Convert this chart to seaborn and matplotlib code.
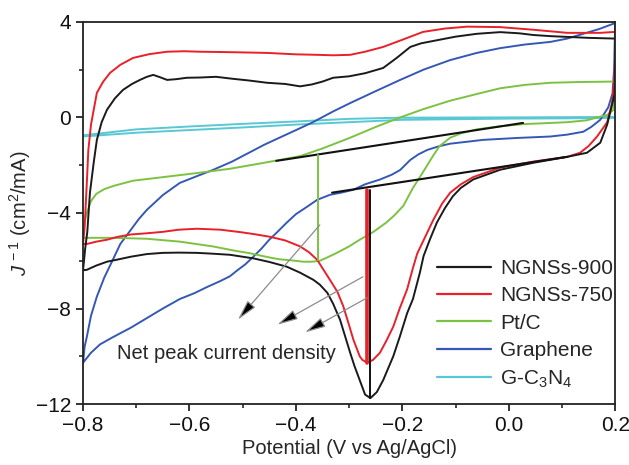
import numpy as np
import pandas as pd
import matplotlib
matplotlib.use("Agg")
import matplotlib.pyplot as plt
import seaborn as sns
from matplotlib.lines import Line2D
from matplotlib.ticker import MultipleLocator

# ── Datos (V vs Ag/AgCl, J^-1) ───────────────────────────────────────────────
ngns900_v = [-0.800, -0.796, -0.792, -0.787, -0.780, -0.774, -0.765, -0.755, -0.740, -0.725,
             -0.708, -0.693, -0.680, -0.668, -0.655, -0.642, -0.625, -0.605, -0.580, -0.550,
             -0.520, -0.490, -0.454, -0.420, -0.392, -0.370, -0.350, -0.330, -0.300, -0.270,
             -0.236, -0.210, -0.185, -0.165, -0.142, -0.100, -0.060, -0.016, 0.020, 0.046,
             0.080, 0.110, 0.150, 0.200,
             0.200, 0.199, 0.196, 0.185, 0.172, 0.147, 0.110, 0.046, -0.016, -0.067,
             -0.090, -0.105, -0.120, -0.135, -0.148, -0.160, -0.167, -0.180, -0.191, -0.205,
             -0.217, -0.236, -0.248, -0.260, -0.270, -0.280, -0.290, -0.298, -0.317, -0.330,
             -0.341, -0.355, -0.367, -0.392, -0.417, -0.450, -0.480, -0.524, -0.560, -0.586,
             -0.620, -0.650, -0.680, -0.710, -0.735, -0.755, -0.775, -0.793, -0.800]
ngns900_j = [-6.40, -5.50, -4.80, -3.15, -1.90, -0.94, -0.20, 0.32, 0.80, 1.15,
             1.40, 1.57, 1.70, 1.78, 1.68, 1.57, 1.60, 1.66, 1.67, 1.70,
             1.62, 1.55, 1.45, 1.40, 1.30, 1.38, 1.50, 1.66, 1.72, 1.85,
             2.07, 2.50, 2.95, 3.10, 3.20, 3.38, 3.50, 3.57, 3.52, 3.45,
             3.40, 3.37, 3.33, 3.30,
             2.00, 1.00, 0.70, -0.30, -1.06, -1.48, -1.65, -1.90, -2.19, -2.60,
             -2.95, -3.30, -3.80, -4.40, -5.10, -5.80, -6.50, -7.60, -8.20, -9.20,
             -10.00, -11.00, -11.50, -11.75, -11.60, -11.00, -10.40, -9.85, -8.47, -7.80,
             -7.34, -7.00, -6.80, -6.50, -6.25, -6.05, -5.90, -5.75, -5.70, -5.67,
             -5.66, -5.67, -5.72, -5.83, -5.95, -6.04, -6.20, -6.38, -6.40]

ngns750_v = [-0.800, -0.797, -0.796, -0.793, -0.790, -0.785, -0.774, -0.762, -0.749, -0.730,
             -0.706, -0.675, -0.642, -0.610, -0.580, -0.520, -0.454, -0.400, -0.360, -0.330,
             -0.298, -0.270, -0.236, -0.200, -0.161, -0.120, -0.078, -0.016, 0.046, 0.110,
             0.172, 0.200,
             0.200, 0.198, 0.194, 0.185, 0.166, 0.150, 0.134, 0.110, 0.046, -0.016,
             -0.067, -0.090, -0.110, -0.125, -0.142, -0.157, -0.172, -0.180, -0.191, -0.205,
             -0.217, -0.230, -0.242, -0.255, -0.266, -0.275, -0.280, -0.292, -0.300, -0.311,
             -0.322, -0.336, -0.360, -0.375, -0.392, -0.420, -0.448, -0.480, -0.505, -0.542,
             -0.586, -0.620, -0.650, -0.680, -0.710, -0.735, -0.755, -0.775, -0.793, -0.800]
ngns750_j = [-5.30, -4.60, -4.16, -2.80, -1.36, -0.30, 1.03, 1.50, 1.87, 2.20,
             2.49, 2.65, 2.75, 2.77, 2.75, 2.73, 2.70, 2.64, 2.62, 2.60,
             2.62, 2.75, 2.95, 3.25, 3.58, 3.72, 3.80, 3.78, 3.67, 3.54,
             3.54, 3.58,
             2.50, 1.50, 0.60, -0.20, -0.80, -1.20, -1.48, -1.65, -1.85, -2.10,
             -2.50, -2.80, -3.15, -3.60, -4.30, -5.00, -5.70, -6.30, -7.20, -8.00,
             -8.76, -9.35, -9.85, -10.15, -10.27, -10.15, -10.00, -9.30, -8.70, -7.90,
             -7.30, -6.80, -5.96, -5.65, -5.40, -5.15, -5.00, -4.88, -4.80, -4.70,
             -4.66, -4.70, -4.79, -4.85, -4.90, -5.00, -5.12, -5.20, -5.30, -5.30]

ptc_v = [-0.800, -0.798, -0.793, -0.785, -0.775, -0.760, -0.740, -0.706, -0.650, -0.586,
         -0.524, -0.460, -0.392, -0.350, -0.298, -0.250, -0.204, -0.160, -0.110, -0.060,
         -0.016, 0.030, 0.078, 0.130, 0.196, 0.200,
         0.200, 0.198, 0.196, 0.185, 0.166, 0.147, 0.110, 0.060, 0.028, -0.020,
         -0.060, -0.090, -0.110, -0.130, -0.142, -0.155, -0.167, -0.180, -0.198, -0.215,
         -0.230, -0.255, -0.280, -0.300, -0.323, -0.340, -0.355, -0.370, -0.386, -0.410,
         -0.430, -0.448, -0.490, -0.510, -0.556, -0.618, -0.680, -0.744, -0.800]
ptc_j = [-5.04, -4.50, -4.00, -3.50, -3.20, -3.00, -2.85, -2.65, -2.50, -2.33,
         -2.15, -1.90, -1.62, -1.30, -0.85, -0.40, 0.00, 0.35, 0.70, 0.98,
         1.22, 1.36, 1.45, 1.48, 1.50, 1.50,
         1.00, 0.60, 0.30, 0.10, 0.00, -0.12, -0.20, -0.25, -0.28, -0.38,
         -0.50, -0.67, -0.85, -1.20, -1.60, -2.07, -2.50, -2.95, -3.70, -4.10,
         -4.40, -4.80, -5.12, -5.40, -5.67, -5.85, -6.00, -6.04, -6.04, -5.98,
         -5.94, -5.87, -5.67, -5.60, -5.40, -5.20, -5.08, -5.04, -5.04]

graph_v = [-0.800, -0.797, -0.793, -0.785, -0.774, -0.760, -0.744, -0.730, -0.710, -0.695,
           -0.680, -0.650, -0.618, -0.585, -0.556, -0.520, -0.490, -0.460, -0.430, -0.392,
           -0.368, -0.330, -0.298, -0.250, -0.204, -0.160, -0.110, -0.060, -0.016, 0.030,
           0.078, 0.110, 0.140, 0.170, 0.200,
           0.198, 0.195, 0.187, 0.172, 0.155, 0.140, 0.110, 0.078, 0.016, -0.048,
           -0.110, -0.130, -0.153, -0.170, -0.185, -0.204, -0.220, -0.242, -0.270, -0.292,
           -0.315, -0.336, -0.360, -0.379, -0.400, -0.417, -0.435, -0.450, -0.465, -0.480,
           -0.495, -0.510, -0.524, -0.542, -0.567, -0.590, -0.618, -0.650, -0.680, -0.710,
           -0.744, -0.768, -0.785, -0.800]
graph_j = [-10.27, -9.60, -9.20, -8.30, -7.50, -6.70, -5.96, -5.30, -4.70, -4.25,
           -3.87, -3.25, -2.74, -2.45, -2.20, -1.85, -1.50, -1.15, -0.84, -0.45,
           -0.20, 0.25, 0.60, 1.10, 1.57, 2.00, 2.40, 2.70, 2.90, 3.05,
           3.16, 3.30, 3.50, 3.70, 3.95,
           2.00, 1.00, 0.42, -0.10, -0.40, -0.60, -0.72, -0.80, -0.86, -0.94,
           -1.10, -1.20, -1.36, -1.55, -1.78, -2.20, -2.40, -2.60, -2.80, -3.03,
           -3.15, -3.24, -3.45, -3.74, -4.05, -4.40, -4.80, -5.12, -5.50, -5.83,
           -6.15, -6.40, -6.65, -6.85, -7.10, -7.35, -7.60, -8.00, -8.40, -8.80,
           -9.20, -9.50, -9.85, -10.27]

gc3n4_v = [-0.80, -0.70, -0.60, -0.50, -0.40, -0.30, -0.20, 0.00, 0.20,
           0.20, 0.10, 0.00, -0.20, -0.30, -0.40, -0.50, -0.60, -0.70, -0.80]
gc3n4_j = [-0.75, -0.50, -0.38, -0.27, -0.17, -0.06, -0.01, 0.00, 0.02,
           -0.02, -0.04, -0.05, -0.10, -0.20, -0.30, -0.42, -0.53, -0.64, -0.80]

# líneas base (tangentes) y alturas de pico
base_ptc_v, base_ptc_j = [-0.437, 0.027], [-1.82, -0.23]
base_ngns_v, base_ngns_j = [-0.332, 0.110], [-3.15, -1.65]
peak_ptc_v, peak_ptc_j = [-0.358, -0.358], [-1.57, -5.96]
peak_750_v, peak_750_j = [-0.267, -0.267], [-3.03, -10.27]
peak_900_v, peak_900_j = [-0.260, -0.260], [-3.03, -11.73]

# flechas: (cola, punta)
arrow_tails = [(-0.355, -4.50), (-0.274, -6.67), (-0.266, -7.55)]
arrow_heads = [(-0.509, -8.47), (-0.435, -8.68), (-0.383, -9.00)]

labels = ["NGNSs-900", "NGNSs-750", "Pt/C", "Graphene", r"G-C$_3$N$_4$"]
colors = ["#1a1a1a", "#e8202a", "#7cc242", "#3558b4", "#58c8d4"]

# ── Estilo ────────────────────────────────────────────────────────────────────
sns.set_style("ticks")
plt.rcParams["font.family"] = ["Liberation Sans", "DejaVu Sans"]
plt.rcParams["mathtext.fontset"] = "custom"
plt.rcParams["mathtext.rm"] = "Liberation Sans"
plt.rcParams["mathtext.it"] = "Liberation Sans:italic"

fig = plt.figure(figsize=(6.29, 4.65), dpi=100)
ax = fig.add_axes([0.132, 0.131, 0.846, 0.822])

series = [(ngns900_v, ngns900_j), (ngns750_v, ngns750_j), (ptc_v, ptc_j),
          (graph_v, graph_j), (gc3n4_v, gc3n4_j)]
order = [4, 3, 2, 1, 0]
for i in order:
    v, j = series[i]
    df = pd.DataFrame({"V": v, "J": j})
    sns.lineplot(data=df, x="V", y="J", sort=False, estimator=None,
                 color=colors[i], lw=1.4, ax=ax, legend=False)

# tangentes y alturas de pico
sns.lineplot(x=base_ptc_v, y=base_ptc_j, color="#111111", lw=1.5, ax=ax, legend=False)
sns.lineplot(x=base_ngns_v, y=base_ngns_j, color="#111111", lw=1.5, ax=ax, legend=False)
sns.lineplot(x=peak_ptc_v, y=peak_ptc_j, color=colors[2], lw=1.4, ax=ax, legend=False, estimator=None, sort=False)
sns.lineplot(x=peak_750_v, y=peak_750_j, color=colors[1], lw=2.6, ax=ax, legend=False, estimator=None, sort=False)
sns.lineplot(x=peak_900_v, y=peak_900_j, color="#111111", lw=1.4, ax=ax, legend=False, estimator=None, sort=False)

for tail, head in zip(arrow_tails, arrow_heads):
    ax.annotate("", xy=head, xytext=tail,
                arrowprops=dict(arrowstyle="-|>,head_length=0.9,head_width=0.22",
                                fc="black", ec="#8c8c8c", lw=0.9, mutation_scale=14,
                                shrinkA=0, shrinkB=0))

ax.text(-0.53, -9.9, "Net peak current density", fontsize=14.5, ha="center", va="center")

# ejes
ax.set_xlim(-0.8, 0.2)
ax.set_ylim(-12, 4)
ax.xaxis.set_major_locator(MultipleLocator(0.2))
ax.xaxis.set_minor_locator(MultipleLocator(0.1))
ax.yaxis.set_major_locator(MultipleLocator(4))
ax.yaxis.set_minor_locator(MultipleLocator(2))
ax.set_xticklabels([f"{t:.1f}".replace("-", "\u2212") for t in ax.get_xticks()])
ax.tick_params(which="major", direction="out", length=5, width=1.2, labelsize=15, colors="#111111")
ax.tick_params(which="minor", direction="out", length=3, width=1.2)
for s in ax.spines.values():
    s.set_linewidth(1.3)
    s.set_color("#222222")
    s.set_visible(True)
ax.set_xlabel("Potential (V vs Ag/AgCl)", fontsize=14.5, labelpad=3)
ax.set_ylabel(r"$J^{\,-1}$ (cm$^2$/mA)", fontsize=14.5, labelpad=2)

handles = [Line2D([], [], color=c, lw=1.6) for c in colors]
ax.legend(handles, labels, loc="center left", bbox_to_anchor=(0.665, 0.209),
          frameon=False, fontsize=15, handlelength=2.6, handletextpad=0.45,
          labelspacing=0.4, borderpad=0, borderaxespad=0)

fig.savefig("out.png", dpi=100)
